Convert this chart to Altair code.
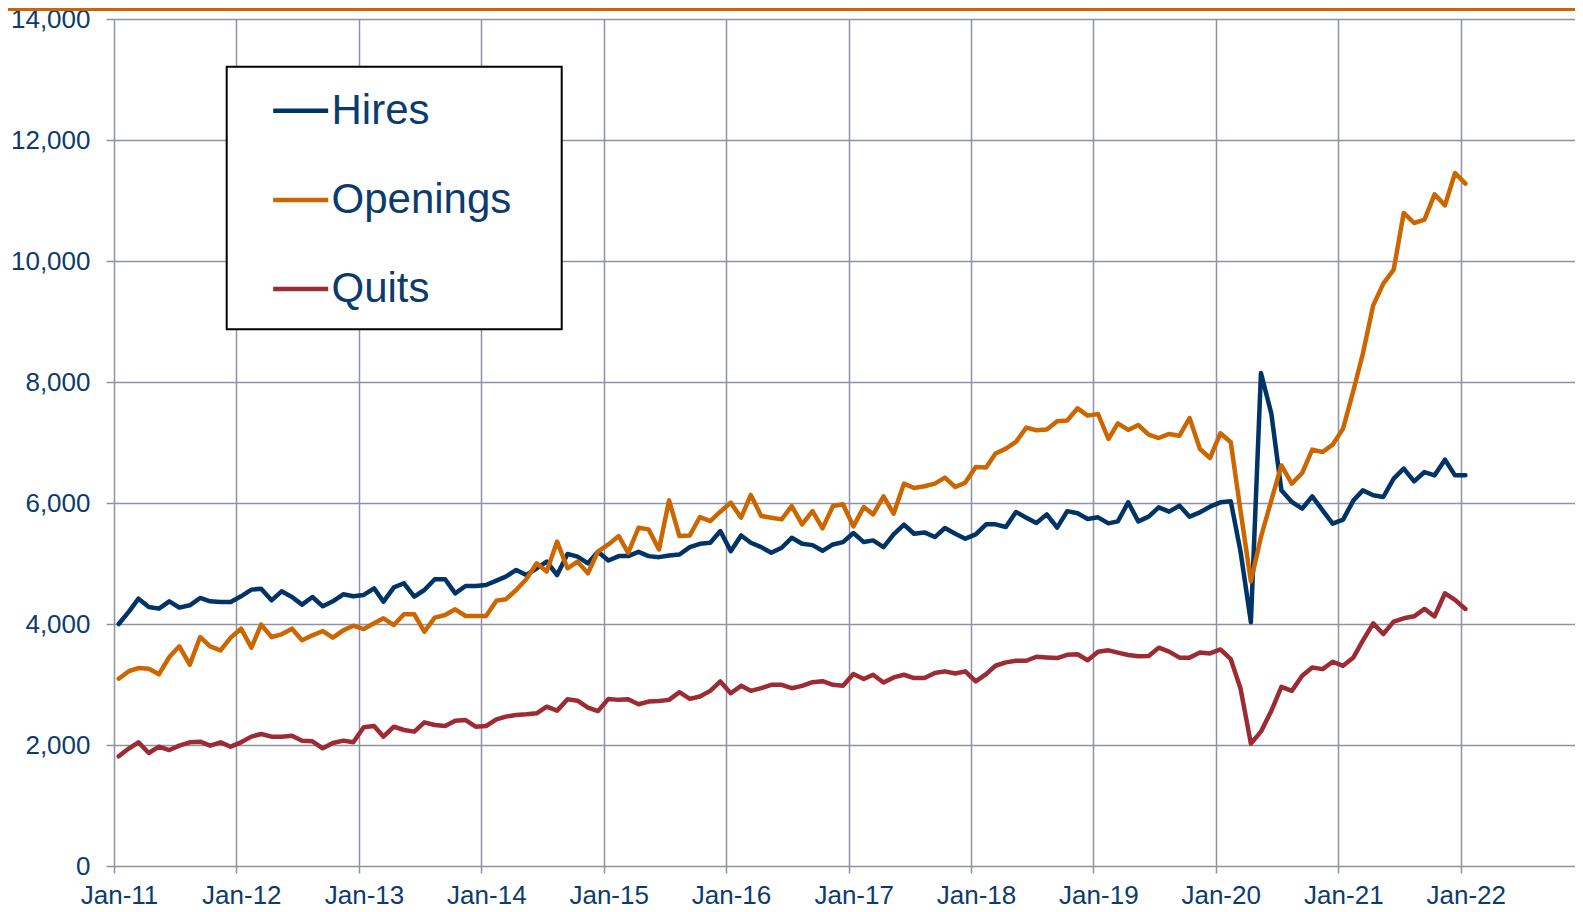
import altair as alt
import pandas as pd

# Monthly JOLTS levels (thousands), Jan-2011 .. Jan-2022
hires = [
    4000, 4209, 4419, 4281, 4254, 4375, 4270, 4309, 4430, 4375, 4364, 4364,
    4458, 4568, 4584, 4391, 4540, 4447, 4320, 4447, 4292, 4375, 4491, 4458,
    4480, 4590, 4369, 4606, 4673, 4452, 4562, 4739, 4739, 4507, 4628, 4628,
    4645, 4717, 4783, 4893, 4810, 4921, 5031, 4810, 5158, 5114, 5003, 5195,
    5050, 5122, 5122, 5193, 5122, 5105, 5133, 5149, 5271, 5326, 5343, 5536,
    5204, 5464, 5343, 5271, 5177, 5260, 5425, 5326, 5304, 5210, 5315, 5354,
    5503, 5354, 5382, 5272, 5481, 5641, 5492, 5514, 5437, 5586, 5492, 5410,
    5481, 5647, 5647, 5603, 5851, 5757, 5669, 5812, 5592, 5865, 5830, 5736,
    5763, 5664, 5697, 6011, 5697, 5774, 5928, 5857, 5956, 5774, 5846, 5939,
    6011, 6028, 5200, 4030, 8149, 7477, 6209, 6017, 5906, 6110, 5879, 5658,
    5725, 6044, 6209, 6127, 6099, 6402, 6568, 6358, 6512, 6457, 6716, 6457,
    6457,
]
openings = [
    3096, 3223, 3272, 3261, 3168, 3454, 3631, 3327, 3785, 3631, 3564, 3774,
    3923, 3609, 3989, 3785, 3829, 3923, 3730, 3813, 3884, 3774, 3895, 3972,
    3917, 4011, 4094, 3983, 4160, 4160, 3873, 4105, 4149, 4243, 4132, 4132,
    4132, 4386, 4408, 4562, 4739, 5003, 4866, 5362, 4921, 5031, 4838, 5196,
    5315, 5453, 5177, 5591, 5564, 5232, 6044, 5453, 5464, 5768, 5702, 5856,
    6006, 5757, 6133, 5785, 5757, 5729, 5950, 5646, 5867, 5580, 5950, 5978,
    5614, 5934, 5812, 6110, 5823, 6320, 6248, 6276, 6320, 6419, 6265, 6337,
    6596, 6585, 6817, 6899, 7010, 7247, 7203, 7214, 7352, 7365, 7565, 7444,
    7471, 7058, 7317, 7207, 7289, 7130, 7074, 7141, 7113, 7405, 6893, 6744,
    7152, 7003, 5873, 4705, 5438, 6044, 6623, 6320, 6496, 6882, 6843, 6964,
    7229, 7862, 8468, 9267, 9626, 9857, 10794, 10628, 10684, 11102, 10920, 11455,
    11279,
]
quits = [
    1813, 1945, 2044, 1868, 1972, 1917, 1989, 2044, 2055, 1989, 2044, 1972,
    2044, 2138, 2182, 2138, 2138, 2154, 2072, 2061, 1945, 2033, 2072, 2044,
    2292, 2314, 2138, 2303, 2248, 2221, 2375, 2331, 2314, 2402, 2413, 2303,
    2314, 2424, 2469, 2496, 2507, 2524, 2634, 2568, 2755, 2733, 2617, 2560,
    2762, 2746, 2757, 2674, 2718, 2729, 2746, 2873, 2762, 2801, 2895, 3050,
    2856, 2978, 2895, 2939, 2994, 2994, 2939, 2978, 3039, 3055, 2994, 2979,
    3172, 3090, 3161, 3034, 3117, 3161, 3106, 3106, 3189, 3217, 3183, 3217,
    3051, 3172, 3310, 3366, 3393, 3393, 3459, 3448, 3437, 3490, 3500, 3400,
    3543, 3565, 3526, 3488, 3466, 3471, 3609, 3543, 3444, 3444, 3528, 3514,
    3580, 3418, 2935, 2022, 2221, 2564, 2961, 2895, 3144, 3282, 3254, 3376,
    3309, 3448, 3724, 4011, 3834, 4039, 4094, 4127, 4249, 4127, 4508, 4398,
    4249,
]
series_names = ["Hires", "Openings", "Quits"]
series_colors = ["#003366", "#cc6600", "#9c2b33"]
year_ticks = list(range(2011, 2023))
y_ticks = list(range(0, 14001, 2000))

n = len(hires)
dates = [f"{2011 + i // 12:04d}-{i % 12 + 1:02d}-15T00:00:00" for i in range(n)]

rows = []
for name, vals in zip(series_names, [hires, openings, quits]):
    for d, v in zip(dates, vals):
        rows.append({"date": d, "series": name, "value": v})
df = pd.DataFrame(rows)

NAVY = "#0c3b6e"
GRID = "#8e92a4"
FONT = "Liberation Sans"
W, H = 1461, 847

lines = alt.Chart(df).mark_line(strokeWidth=4.5, strokeJoin="round", strokeCap="round").encode(
    x=alt.X(
        "date:T",
        scale=alt.Scale(domain=[alt.DateTime(year=2011, month=1, date=1),
                                alt.DateTime(year=2022, month=12, date=8)]),
        axis=alt.Axis(
            values=[alt.DateTime(year=y, month=1, date=1) for y in year_ticks],
            format="%b-%y", title=None, labelFontSize=26, labelColor=NAVY,
            labelFont=FONT, grid=True, gridColor=GRID, gridWidth=1.5,
            tickColor=GRID, tickSize=7, tickWidth=1.5, domain=False,
            labelPadding=9, labelOffset=5, labelFlush=False, labelOverlap=False,
        ),
    ),
    y=alt.Y(
        "value:Q",
        scale=alt.Scale(domain=[0, 14000], nice=False),
        axis=alt.Axis(
            values=y_ticks, format=",.0f", title=None, labelFontSize=26,
            labelColor=NAVY, labelFont=FONT, grid=True, gridColor=GRID,
            gridWidth=1.5, tickColor=GRID, tickSize=8, tickWidth=1.5,
            domain=False, labelPadding=16,
        ),
    ),
    color=alt.Color(
        "series:N",
        scale=alt.Scale(domain=series_names, range=series_colors),
        legend=alt.Legend(
            orient="none", legendX=112.7, legendY=48.7, title=None,
            symbolType="stroke", symbolSize=3025, symbolStrokeWidth=4.5,
            labelFontSize=42, labelColor=NAVY, labelFont=FONT, labelLimit=500,
            padding=13, rowPadding=38.2, symbolOffset=31, labelOffset=0.8,
        ),
    ),
)

dummy = alt.Data(values=[{"a": 1}])
box = alt.Chart(dummy).mark_rect(fill="white", stroke="black", strokeWidth=2).encode(
    x=alt.value(112.7), x2=alt.value(447.7), y=alt.value(47.7), y2=alt.value(310.3)
)
top_rule = alt.Chart(dummy).mark_rule(color="#cc6600", strokeWidth=3).encode(
    x=alt.value(-106), x2=alt.value(W), y=alt.value(-9.5)
)

chart = alt.layer(box, lines, top_rule).properties(
    width=W, height=H,
    padding={"left": 106, "top": 11, "right": 0, "bottom": 38},
    autosize=alt.AutoSizeParams(type="none"),
).configure_view(stroke=None).configure(font=FONT)

chart.save("out.html", embed_options={"renderer": "svg", "actions": False})
